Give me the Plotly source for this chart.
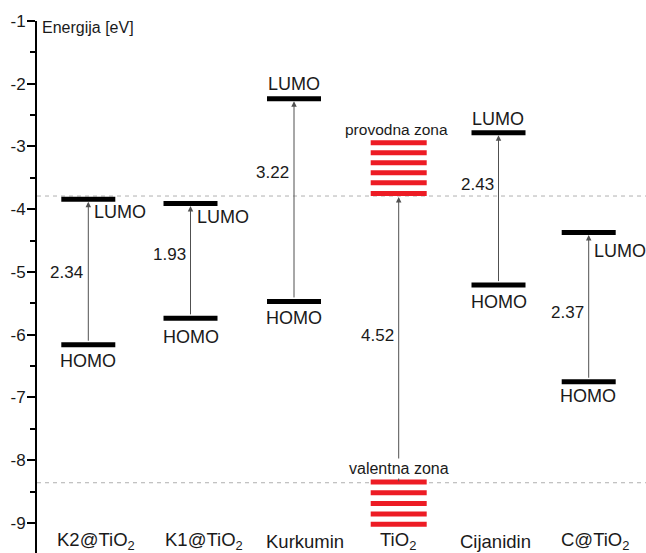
import plotly.graph_objects as go

# ---------------- data ----------------
molecules = ["K2@TiO<sub>2</sub>", "K1@TiO<sub>2</sub>", "Kurkumin",
             "TiO<sub>2</sub>", "Cijanidin", "C@TiO<sub>2</sub>"]
lumo = [-3.84, -3.91, -2.24, None, -2.78, -4.37]
homo = [-6.16, -5.74, -5.47, None, -5.21, -6.75]
gap_labels = ["2.34", "1.93", "3.22", "4.52", "2.43", "2.37"]
tio2_cb_edge = -3.79
tio2_vb_edge = -8.36
tio2_cb_lines = [-2.94, -3.10, -3.26, -3.42, -3.58, -3.75]
tio2_vb_lines = [-8.35, -8.52, -8.69, -8.86, -9.02]
y_ticks = [-1, -2, -3, -4, -5, -6, -7, -8, -9]

# ---------------- layout constants ----------------
LEVEL_X = [0.0, 1.022, 2.057, 3.104, 4.102, 5.004]     # column centres
LABEL_X = [0.077, 1.157, 2.167, 3.097, 4.074, 5.067]   # category label centres
GAP_Y = [-5.01, -4.72, -3.41, -6.01, -3.60, -5.65]     # gap number heights
HALF_W = 0.27
BAND_HALF_W = 0.28
FONT = "Liberation Sans, Arial, sans-serif"
TXT = "#1a1a1a"
# (xanchor, xshift, yshift) for LUMO / HOMO labels
LUMO_POS = [("left", 4, -13), ("left", 4, -13), ("center", 0, 15),
            None, ("center", -1, 14), ("left", 3, -19)]
HOMO_POS = [("center", 0, -16), ("center", 0, -19), ("center", 0, -17),
            None, ("center", 0, -17), ("center", -1, -14)]

fig = go.Figure()
shapes = []
annotations = []

# dashed TiO2 band-edge reference lines
for e in (tio2_cb_edge, tio2_vb_edge):
    shapes.append(dict(type="line", xref="paper", yref="y", x0=0, x1=1, y0=e, y1=e,
                       line=dict(color="#b0b0b0", width=1, dash="4px,4px"), layer="below"))

# molecule levels
for i, (l, h) in enumerate(zip(lumo, homo)):
    if l is None:
        continue
    xc = LEVEL_X[i]
    for e in (l, h):
        fig.add_trace(go.Scatter(x=[xc - HALF_W, xc + HALF_W], y=[e, e], mode="lines",
                                 line=dict(color="black", width=5), hoverinfo="skip",
                                 showlegend=False))
    # arrow HOMO -> LUMO
    annotations.append(dict(x=xc, y=l, ax=xc, ay=h, xref="x", yref="y", axref="x", ayref="y",
                            text="", showarrow=True, arrowhead=2, arrowsize=1.1, arrowwidth=1,
                            arrowcolor="#505050", standoff=2.5, startstandoff=2.5))
    xa, xs, ys = LUMO_POS[i]
    annotations.append(dict(x=xc, y=l, xref="x", yref="y", text="LUMO", showarrow=False,
                            xanchor=xa, yanchor="middle", xshift=xs, yshift=ys,
                            font=dict(size=18, color=TXT, family=FONT)))
    xa, xs, ys = HOMO_POS[i]
    annotations.append(dict(x=xc, y=h, xref="x", yref="y", text="HOMO", showarrow=False,
                            xanchor=xa, yanchor="middle", xshift=xs, yshift=ys,
                            font=dict(size=18, color=TXT, family=FONT)))

# TiO2 bands
ti = 3
xc = LEVEL_X[ti]
for e in tio2_cb_lines + tio2_vb_lines:
    fig.add_trace(go.Scatter(x=[xc - BAND_HALF_W, xc + BAND_HALF_W], y=[e, e], mode="lines",
                             line=dict(color="#ed1c24", width=5), hoverinfo="skip",
                             showlegend=False))
annotations.append(dict(x=xc, y=tio2_cb_edge, ax=xc, ay=tio2_vb_edge, xref="x", yref="y",
                        axref="x", ayref="y", text="", showarrow=True, arrowhead=2,
                        arrowsize=1.1, arrowwidth=1, arrowcolor="#505050", standoff=1))
annotations.append(dict(x=xc, y=tio2_cb_lines[0], xref="x", yref="y", text="provodna zona",
                        showarrow=False, xanchor="center", yanchor="middle", yshift=13, xshift=-2,
                        font=dict(size=15.5, color=TXT, family=FONT), bgcolor="white"))
annotations.append(dict(x=xc, y=tio2_vb_lines[0], xref="x", yref="y", text="valentna zona",
                        showarrow=False, xanchor="center", yanchor="middle", yshift=14,
                        font=dict(size=16, color=TXT, family=FONT), bgcolor="white"))

# gap values
for i, g in enumerate(gap_labels):
    annotations.append(dict(x=LEVEL_X[i], y=GAP_Y[i], xref="x", yref="y", text=g,
                            showarrow=False, xanchor="right", yanchor="middle", xshift=-3,
                            font=dict(size=17, color=TXT, family=FONT)))

# category labels
for i, m in enumerate(molecules):
    annotations.append(dict(x=LABEL_X[i], y=-9.29, xref="x", yref="y", text=m,
                            showarrow=False, xanchor="center", yanchor="middle",
                            font=dict(size=18.5, color=TXT, family=FONT)))

# axis title
annotations.append(dict(x=0, y=1, xref="paper", yref="paper", text="Energija [eV]",
                        showarrow=False, xanchor="left", yanchor="middle", xshift=3, yshift=-6,
                        font=dict(size=16, color=TXT, family=FONT)))

fig.update_layout(
    width=646, height=553,
    margin=dict(l=37, r=0, t=21, b=0),
    paper_bgcolor="white", plot_bgcolor="white",
    shapes=shapes, annotations=annotations,
    showlegend=False,
    xaxis=dict(range=[-0.513, 5.577], visible=False, fixedrange=True),
    yaxis=dict(range=[-9.48, -1], tickvals=y_ticks, ticktext=[str(v) for v in y_ticks],
               showgrid=False, zeroline=False, showline=True, linecolor="black", linewidth=2,
               ticks="outside", ticklen=8, tickwidth=1.5, tickcolor="black",
               tickfont=dict(size=17, color=TXT, family=FONT), ticklabelstandoff=-2,
               minor=dict(tickvals=[-1.5, -2.5, -3.5, -4.5, -5.5, -6.5, -7.5, -8.5, -9.5],
                          ticks="outside", ticklen=5, tickwidth=1.5, tickcolor="black"),
               fixedrange=True),
)

fig.write_html("out.html")
